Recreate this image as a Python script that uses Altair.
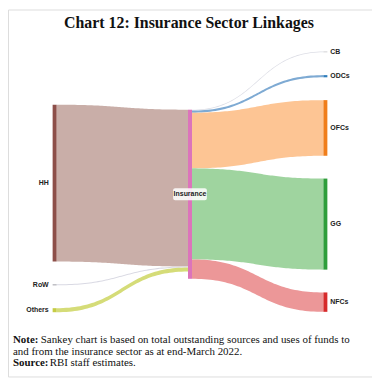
import altair as alt
import pandas as pd
import numpy as np

# ---------------- data (relative units) ----------------
sources = ["HH", "RoW", "Others"]
source_flows = [93.0, 0.6, 2.4]
hub = "Insurance"
uses = ["CB", "ODCs", "OFCs", "GG", "NFCs"]
use_flows = [0.5, 1.3, 33.0, 54.0, 11.5]

node_colors = {
    "HH": "#8d4f49", "RoW": "#a0a0a8", "Others": "#c5cc45",
    "Insurance": "#dc74bb",
    "CB": "#c8c8cc", "ODCs": "#2f7dbb", "OFCs": "#f07e1b", "GG": "#2e9e3b", "NFCs": "#d62a2b",
}
link_colors = {
    "HH": "#c9aea8", "RoW": "#d9d9e3", "Others": "#d5dc78",
    "CB": "#dcdde5", "ODCs": "#7eaad3", "OFCs": "#fdc594", "GG": "#9fd49f", "NFCs": "#ec9798",
}

title_text = "Chart 12: Insurance Sector Linkages"
note_label = "Note:"
note_line1 = "Sankey chart is based on total outstanding sources and uses of funds to"
note_line2 = "and from the insurance sector as at end-March 2022."
source_label = "Source:"
source_text = "RBI staff estimates."

# ---------------- layout (style parameters, px) ----------------
W, H = 367, 370
PX_X = 136.5          # px between columns
X0 = 45.0            # px of first column
PX_Y = 1.7           # px per value unit
NODE_W = 4.0
PAD = 23.0
col_tops = [96.0, 101.0, 42.3]

nw = NODE_W / PX_X
pad = PAD / PX_Y

nodes = []
y = col_tops[0] / PX_Y
for n, v in zip(sources, source_flows):
    nodes.append(dict(name=n, col=0, y0=y, y1=y + v))
    y += v + pad
hub_size = max(sum(source_flows), sum(use_flows))
hy0 = col_tops[1] / PX_Y
nodes.append(dict(name=hub, col=1, y0=hy0, y1=hy0 + hub_size))
y = col_tops[2] / PX_Y
for n, v in zip(uses, use_flows):
    nodes.append(dict(name=n, col=2, y0=y, y1=y + v))
    y += v + pad
nodes_df = pd.DataFrame(nodes)
nodes_df["x"] = nodes_df["col"].astype(float)
nodes_df["x2"] = nodes_df["x"] + nw
nodes_df["yc"] = (nodes_df["y0"] + nodes_df["y1"]) / 2
node_pos = nodes_df.set_index("name")

t = np.linspace(0, 1, 60)


def band(name, xa, xb, ya0, ya1, yb0, yb1):
    xs = (1 - t) ** 3 * xa + 3 * t * (1 - t) * (xa + xb) / 2 + t ** 3 * xb
    s = 3 * t ** 2 - 2 * t ** 3
    return pd.DataFrame(dict(link=name, x=xs, top=ya0 + (yb0 - ya0) * s,
                             bot=ya1 + (yb1 - ya1) * s))


parts = []
cur = hy0
for n, v in zip(sources, source_flows):
    s = node_pos.loc[n]
    parts.append(band(n, s.x2, 1.0, s.y0, s.y1, cur, cur + v))
    cur += v
cur = hy0
for n, v in zip(uses, use_flows):
    tg = node_pos.loc[n]
    parts.append(band(n, 1.0 + nw, tg.x, cur, cur + v, tg.y0, tg.y1))
    cur += v
links_df = pd.concat(parts, ignore_index=True)

xscale = alt.Scale(domain=[-X0 / PX_X, (W - X0) / PX_X], nice=False, zero=False)
yscale = alt.Scale(domain=[0, H / PX_Y], nice=False, zero=False, reverse=True)

link_names = sources + uses
links = alt.Chart(links_df).mark_area(opacity=1, interpolate="linear").encode(
    x=alt.X("x:Q", scale=xscale, axis=None),
    y=alt.Y("top:Q", scale=yscale, axis=None),
    y2="bot:Q",
    detail="link:N",
    color=alt.Color("link:N", scale=alt.Scale(domain=link_names,
                    range=[link_colors[k] for k in link_names]), legend=None),
)

node_names = list(nodes_df["name"])
node_rects = alt.Chart(nodes_df).mark_rect().encode(
    x=alt.X("x:Q", scale=xscale, axis=None),
    x2="x2:Q",
    y=alt.Y("y0:Q", scale=yscale, axis=None),
    y2="y1:Q",
    fill=alt.Fill("name:N", scale=alt.Scale(domain=node_names,
                  range=[node_colors[k] for k in node_names]), legend=None),
)

lab_font = dict(font="Liberation Sans", fontSize=7, fontWeight="bold", color="#222222",
                baseline="middle")
left_labels = alt.Chart(nodes_df[nodes_df.col == 0]).mark_text(align="right", dx=-4, **lab_font).encode(
    x=alt.X("x:Q", scale=xscale, axis=None), y=alt.Y("yc:Q", scale=yscale, axis=None), text="name:N")
right_labels = alt.Chart(nodes_df[nodes_df.col == 2]).mark_text(align="left", dx=3, **lab_font).encode(
    x=alt.X("x2:Q", scale=xscale, axis=None), y=alt.Y("yc:Q", scale=yscale, axis=None), text="name:N")
hub_df = nodes_df[nodes_df.col == 1].copy()
hub_df["xm"] = (hub_df["x"] + hub_df["x2"]) / 2
hub_box = alt.Chart(hub_df).mark_rect(fill="white", opacity=0.85, xOffset=-17, x2Offset=17,
                                      yOffset=-6, y2Offset=6, cornerRadius=2).encode(
    x=alt.X("xm:Q", scale=xscale, axis=None), x2="xm:Q",
    y=alt.Y("yc:Q", scale=yscale, axis=None), y2="yc:Q")
hub_label = alt.Chart(hub_df).mark_text(align="center", **lab_font).encode(
    x=alt.X("xm:Q", scale=xscale, axis=None), y=alt.Y("yc:Q", scale=yscale, axis=None), text="name:N")

txt = pd.DataFrame({"k": [0]})
title = alt.Chart(txt).mark_text(text=title_text, font="Liberation Serif", fontSize=16,
                                 fontWeight="bold", color="#111111", align="center",
                                 baseline="alphabetic").encode(x=alt.value(182.5), y=alt.value(19))
serif = dict(font="Liberation Serif", fontSize=11, color="#111111", align="left",
             baseline="alphabetic")
n1 = alt.Chart(txt).mark_text(text=note_label, fontWeight="bold", **serif).encode(
    x=alt.value(5), y=alt.value(336.5))
n2 = alt.Chart(txt).mark_text(text=note_line1, **serif).encode(x=alt.value(33), y=alt.value(336.5))
n3 = alt.Chart(txt).mark_text(text=note_line2, **serif).encode(x=alt.value(5), y=alt.value(348))
n4 = alt.Chart(txt).mark_text(text=source_label, fontWeight="bold", **serif).encode(
    x=alt.value(5), y=alt.value(359))
n5 = alt.Chart(txt).mark_text(text=source_text, **serif).encode(x=alt.value(42), y=alt.value(359))

chart = alt.layer(links, node_rects, left_labels, right_labels, hub_box, hub_label,
                  title, n1, n2, n3, n4, n5).properties(
    width=W, height=H, padding=0, autosize=alt.AutoSizeParams(type="none")
).configure_view(stroke="#000000", strokeWidth=1.2).configure(background="white")

chart.save("out.html", embed_options={"renderer": "svg", "actions": False})
